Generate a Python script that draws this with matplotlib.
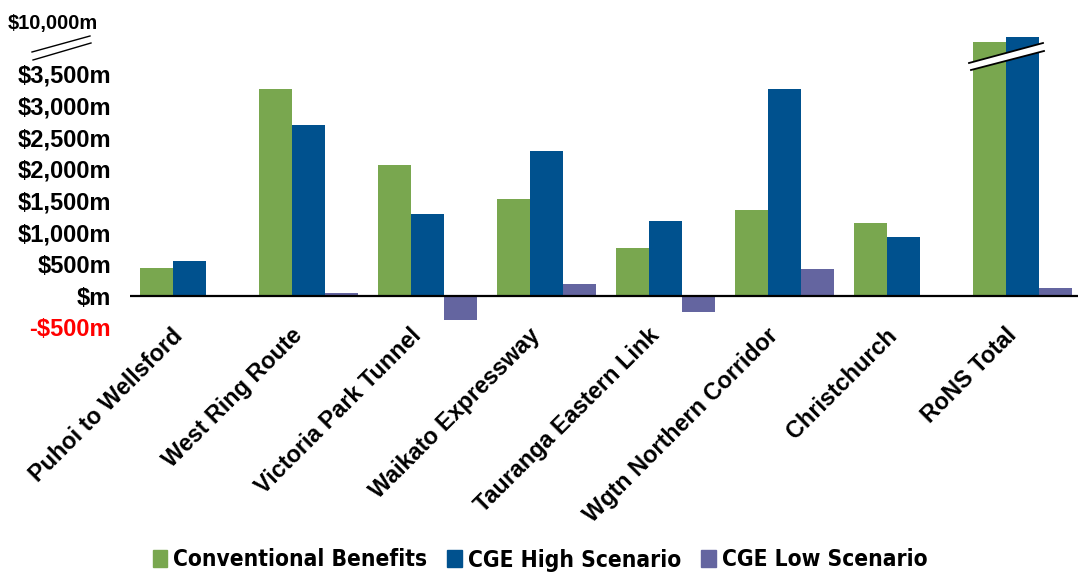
import numpy as np
import matplotlib
matplotlib.use("Agg")
import matplotlib.pyplot as plt
import matplotlib.transforms as mtransforms
from matplotlib.lines import Line2D
from matplotlib.patches import Polygon, Patch

plt.rcParams['font.family'] = ['Liberation Sans', 'DejaVu Sans']

projects = ["Puhoi to Wellsford", "West Ring Route", "Victoria Park Tunnel",
            "Waikato Expressway", "Tauranga Eastern Link", "Wgtn Northern Corridor",
            "Christchurch", "RoNS Total"]
conventional = [445, 3260, 2065, 1530, 757, 1356, 1150, 6800]
cge_high = [552, 2700, 1295, 2285, 1182, 3265, 930, 7600]
cge_low = [0, 47, -390, 189, -263, 426, 0, 126]

series_names = ["Conventional Benefits", "CGE High Scenario", "CGE Low Scenario"]
colors = ["#79A74F", "#00518E", "#6465A0"]

ytick_vals = [-500, 0, 500, 1000, 1500, 2000, 2500, 3000, 3500]
top_label_val = 10000

# compress everything above the axis break so the totals fit
BREAK = 3700.0
K = (4321.0 - BREAK) / (top_label_val - BREAK)


def fwd(v):
    v = np.asarray(v, dtype=float)
    return np.where(v <= BREAK, v, BREAK + (v - BREAK) * K)


def inv(d):
    d = np.asarray(d, dtype=float)
    return np.where(d <= BREAK, d, BREAK + (d - BREAK) / K)


W, H = 1078, 573
fig = plt.figure(figsize=(W / 100, H / 100), dpi=100)
ax = fig.add_axes([130 / W, 1 - 330 / H, 1 - 130 / W, (330 - 15) / H])
ax.set_yscale('function', functions=(fwd, inv))

x = np.arange(len(projects))
bw = 0.277
for i, (vals, c) in enumerate(zip([conventional, cge_high, cge_low], colors)):
    ax.bar(x + (i - 1) * bw, vals, width=bw, color=c, label=series_names[i], zorder=2)

ax.set_xlim(-0.5, len(projects) - 0.5 - 4 / 119)
ax.set_ylim(-540, 11100)
ax.axhline(0, color="black", lw=1.6, zorder=3)

for s in ax.spines.values():
    s.set_visible(False)

ax.set_yticks(ytick_vals)
ax.set_yticklabels(["-$500m" if v < 0 else ("$m" if v == 0 else f"${v:,}m") for v in ytick_vals],
                   fontsize=17, fontweight="bold")
ax.get_yticklabels()[0].set_color("#FF0000")
ax.tick_params(axis="y", length=0, pad=13.5)
ax.yaxis.set_minor_locator(matplotlib.ticker.NullLocator())

ax.set_xticks(x)
ax.set_xticklabels(projects, rotation=45, ha="right", va="top", rotation_mode="anchor",
                   fontsize=16.8, fontweight="bold")
ax.tick_params(axis="x", length=0, pad=0)
shift = mtransforms.ScaledTranslation(-18 / 100, 6 / 100, fig.dpi_scale_trans)
for lbl in ax.get_xticklabels():
    lbl.set_transform(lbl.get_transform() + shift)

# $10,000m label above the break
ax.text(8 / W, top_label_val, "$10,000m",
        transform=mtransforms.blended_transform_factory(fig.transFigure, ax.transData),
        fontsize=14.5, fontweight="bold", ha="left", va="center_baseline")


def px(xp, yp):
    return (xp / W, 1 - yp / H)


# break marks on the value axis
for (x0, y0, x1, y1) in [(32, 52, 90, 36), (33, 60, 91, 43)]:
    fig.add_artist(Line2D([px(x0, y0)[0], px(x1, y1)[0]], [px(x0, y0)[1], px(x1, y1)[1]],
                          color="black", lw=1.0))

# white gap cut through the total bars
band = Polygon([px(969, 63), px(1043, 43), px(1044, 51), px(971, 70)], closed=True,
               facecolor="white", edgecolor="none", transform=fig.transFigure, zorder=5)
fig.add_artist(band)
for (x0, y0, x1, y1) in [(969, 63, 1043, 43), (971, 70, 1044, 51)]:
    fig.add_artist(Line2D([px(x0, y0)[0], px(x1, y1)[0]], [px(x0, y0)[1], px(x1, y1)[1]],
                          color="black", lw=1.3, zorder=6))

handles = [Patch(color=c) for c in colors]
fig.legend(handles, series_names, loc="center", bbox_to_anchor=(540 / W, 1 - 560 / H),
           ncol=3, frameon=False, handlelength=0.65, handleheight=0.75, handletextpad=0.25,
           columnspacing=0.9, prop={"family": "DejaVu Sans", "stretch": "condensed",
                                    "weight": "bold", "size": 16.3})

fig.savefig("out.png", dpi=100)
